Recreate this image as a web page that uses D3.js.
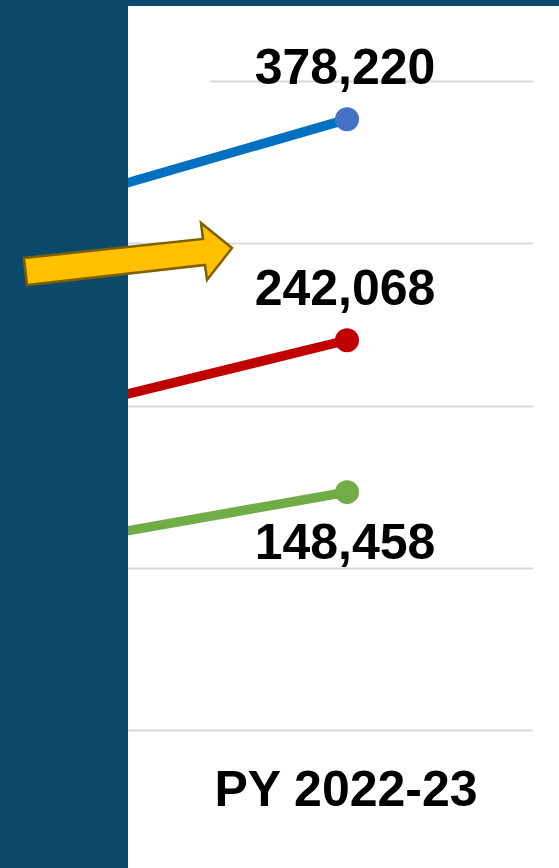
<!DOCTYPE html>
<html>
<head>
<meta charset="utf-8">
<script src="https://cdn.jsdelivr.net/npm/d3@7"></script>
<style>
  html, body { margin: 0; padding: 0; background: #0C4A6C; }
  svg { display: block; }
</style>
</head>
<body>
<svg id="chart" width="559" height="868"></svg>
<script>
// ---- data ----
const categories = ["PY 2021-22", "PY 2022-23"];
const seriesNames = ["Total", "Series B", "Series C"];
const totalValues = [312000, 378220];
const seriesBValues = [186000, 242068];
const seriesCValues = [108000, 148458];
const yTicks = [0, 100000, 200000, 300000, 400000];
const shownCategory = "PY 2022-23";

// ---- styles ----
const lineColors = ["#0070C0", "#C00000", "#70AD47"];
const markerColors = ["#4472C4", "#C00000", "#70AD47"];
const labelPlacement = ["above", "above", "below"];

const W = 559, H = 868;
const panelX = 128, panelY = 6;

const svg = d3.select("#chart");

// dark background + white panel
svg.append("rect").attr("width", W).attr("height", H).attr("fill", "#0C4A6C");
svg.append("rect").attr("x", panelX).attr("y", panelY)
  .attr("width", W - panelX).attr("height", H - panelY).attr("fill", "#ffffff");

svg.append("defs").append("clipPath").attr("id", "panelClip")
  .append("rect").attr("x", panelX).attr("y", panelY)
  .attr("width", W - panelX).attr("height", H - panelY);

const g = svg.append("g").attr("clip-path", "url(#panelClip)");

// scales
const x = d3.scalePoint().domain(categories).range([-25, 347]);
const y = d3.scaleLinear().domain([0, 400000]).range([731, 82]);

// gridlines
const gridRight = 533;
g.append("g").selectAll("line").data(yTicks).join("line")
  .attr("x1", d => d === d3.max(yTicks) ? 210 : panelX)
  .attr("x2", gridRight)
  .attr("y1", d => Math.round(y(d)) - 0.5).attr("y2", d => Math.round(y(d)) - 0.5)
  .attr("stroke", "#D9D9D9").attr("stroke-width", 2);

// series
const series = [totalValues, seriesBValues, seriesCValues].map((vals, i) => ({
  name: seriesNames[i],
  points: categories.map((c, j) => ({ cat: c, value: vals[j] })),
  color: lineColors[i], marker: markerColors[i], place: labelPlacement[i]
}));

const line = d3.line().x(d => x(d.cat)).y(d => y(d.value) + 2);

series.forEach(s => {
  g.append("path").datum(s.points)
    .attr("d", line).attr("fill", "none")
    .attr("stroke", s.color).attr("stroke-width", 9.5)
    .attr("stroke-linecap", "round");
  g.selectAll(null).data(s.points).join("circle")
    .attr("cx", d => x(d.cat)).attr("cy", d => y(d.value) + 2)
    .attr("r", 12).attr("fill", s.marker);
  // data label for visible category
  const last = s.points.find(p => p.cat === shownCategory);
  g.append("text")
    .attr("x", x(last.cat) - 2)
    .attr("y", y(last.value) + (s.place === "above" ? -33 : 69))
    .attr("text-anchor", "middle")
    .attr("font-family", "'Liberation Sans', Arial, sans-serif")
    .attr("font-weight", "bold").attr("font-size", 50)
    .attr("fill", "#000")
    .text(d3.format(",")(last.value));
});

// category axis label
g.append("text")
  .attr("x", x(shownCategory) - 1).attr("y", 806)
  .attr("text-anchor", "middle")
  .attr("font-family", "'Liberation Sans', Arial, sans-serif")
  .attr("font-weight", "bold").attr("font-size", 50)
  .attr("fill", "#000")
  .text(shownCategory);

// annotation arrow
const arrowPts = [[24,258],[203,239],[201,223],[232,248],[207,280],[205,265],[27,285]];
svg.append("path")
  .attr("d", "M" + arrowPts.map(p => p.join(",")).join("L") + "Z")
  .attr("fill", "#FFC000").attr("stroke", "#7F6000")
  .attr("stroke-width", 2.5).attr("stroke-linejoin", "miter");
</script>
</body>
</html>
